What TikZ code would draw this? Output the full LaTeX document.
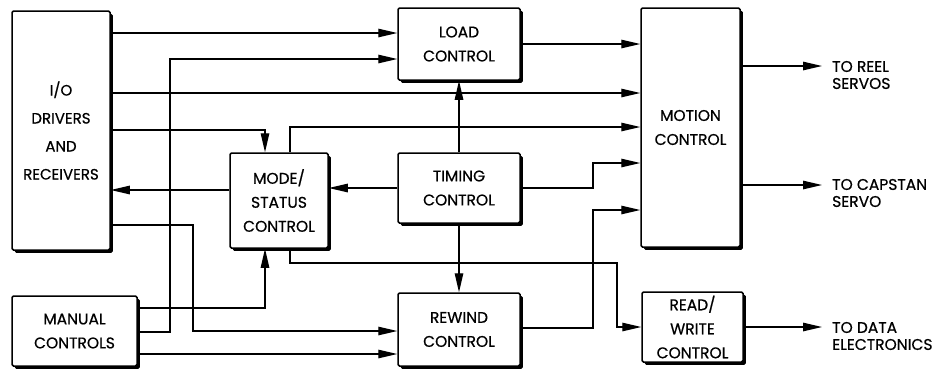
\documentclass[tikz,border=0pt]{standalone}
\usepackage{fontspec}
\setmainfont{Poppins}[FakeBold=0.6]
\usetikzlibrary{arrows.meta,positioning,shadows}

\begin{document}
\begin{tikzpicture}[
	x=1pt, y=-1pt,
	block/.style={draw=black, line width=1.5pt, rounded corners=1.5pt, align=center, fill=white, inner sep=0pt,
		font=\fontsize{15.5}{24}\selectfont,
		drop shadow={shadow xshift=2.8pt, shadow yshift=-2.8pt, fill=black, opacity=1}},
	arr/.style={-{Triangle[length=19pt,width=8.5pt]}, line width=1.2pt},
	outlbl/.style={anchor=west, align=left, inner xsep=10pt, inner ysep=0pt, font=\fontsize{15.5}{17}\selectfont}
	]
	\useasboundingbox (0,0) rectangle (934,368);
	\node[block, minimum width=98pt, minimum height=239pt, font=\fontsize{15}{28}\selectfont] (io) at (61,130.5) {I/O\\DRIVERS\\AND\\RECEIVERS};
	\node[block, minimum width=125pt, minimum height=70pt] (manual) at (74.5,331) {MANUAL\\CONTROLS};
	\node[block, minimum width=98pt, minimum height=95pt] (mode) at (279,200.5) {MODE/\\STATUS\\CONTROL};
	\node[block, minimum width=122pt, minimum height=72pt] (load) at (459,44) {LOAD\\CONTROL};
	\node[block, minimum width=122pt, minimum height=70pt] (timing) at (459,188) {TIMING\\CONTROL};
	\node[block, minimum width=122pt, minimum height=73pt] (rewind) at (459,329.5) {REWIND\\CONTROL};
	\node[block, minimum width=99pt, minimum height=239pt] (motion) at (690.5,127.5) {MOTION\\CONTROL};
	\node[block, minimum width=101pt, minimum height=70pt] (rw) at (692.5,327) {READ/\\WRITE\\CONTROL};
	\node[outlbl] (reel) at (822,75) {TO REEL\\SERVOS};
	\node[outlbl] (capstan) at (822,193) {TO CAPSTAN\\SERVO};
	\node[outlbl] (data) at (822,336) {TO DATA\\ELECTRONICS};
	% inputs to load control
	\draw[arr] (io.east |- 0,33) -- (load.west |- 0,33);
	\draw[arr] (manual.east |- 0,332) -| (170,59) -- (load.west |- 0,59);
	% into motion control
	\draw[arr] (load.east) -- (motion.west |- load.east);
	\draw[arr] (io.east |- 0,93) -- (motion.west |- 0,93);
	\draw[arr] ([xshift=11pt]mode.north) |- (motion.west |- 0,127);
	\draw[arr] (timing.east |- 0,188) -| (593,163) -- (motion.west |- 0,163);
	\draw[arr] (rewind.east |- 0,328) -| (593,210) -- (motion.west |- 0,210);
	% mode/status
	\draw[arr] (io.east |- 0,130) -| ([xshift=-14pt]mode.north);
	\draw[arr] (manual.east |- 0,308) -| ([xshift=-14pt]mode.south);
	\draw[arr] (timing.west |- 0,188) -- (mode.east |- 0,188);
	\draw[arr] (mode.west |- 0,190) -- (io.east |- 0,190);
	\draw[arr] ([xshift=11pt]mode.south) |- (617,263) -- (617,327) -- (rw.west |- 0,327);
	% timing
	\draw[arr] (timing.north) -- (load.south);
	\draw[arr] (timing.south) -- (rewind.north);
	% into rewind control
	\draw[arr] (io.east |- 0,225) -| (193,331) -- (rewind.west |- 0,331);
	\draw[arr] (manual.east |- 0,354) -- (rewind.west |- 0,354);
	% outputs
	\draw[arr] (motion.east |- 0,66) -- (reel.west |- 0,66);
	\draw[arr] (motion.east |- 0,185) -- (capstan.west |- 0,185);
	\draw[arr] (rw.east |- 0,327) -- (data.west |- 0,327);
\end{tikzpicture}
\end{document}
